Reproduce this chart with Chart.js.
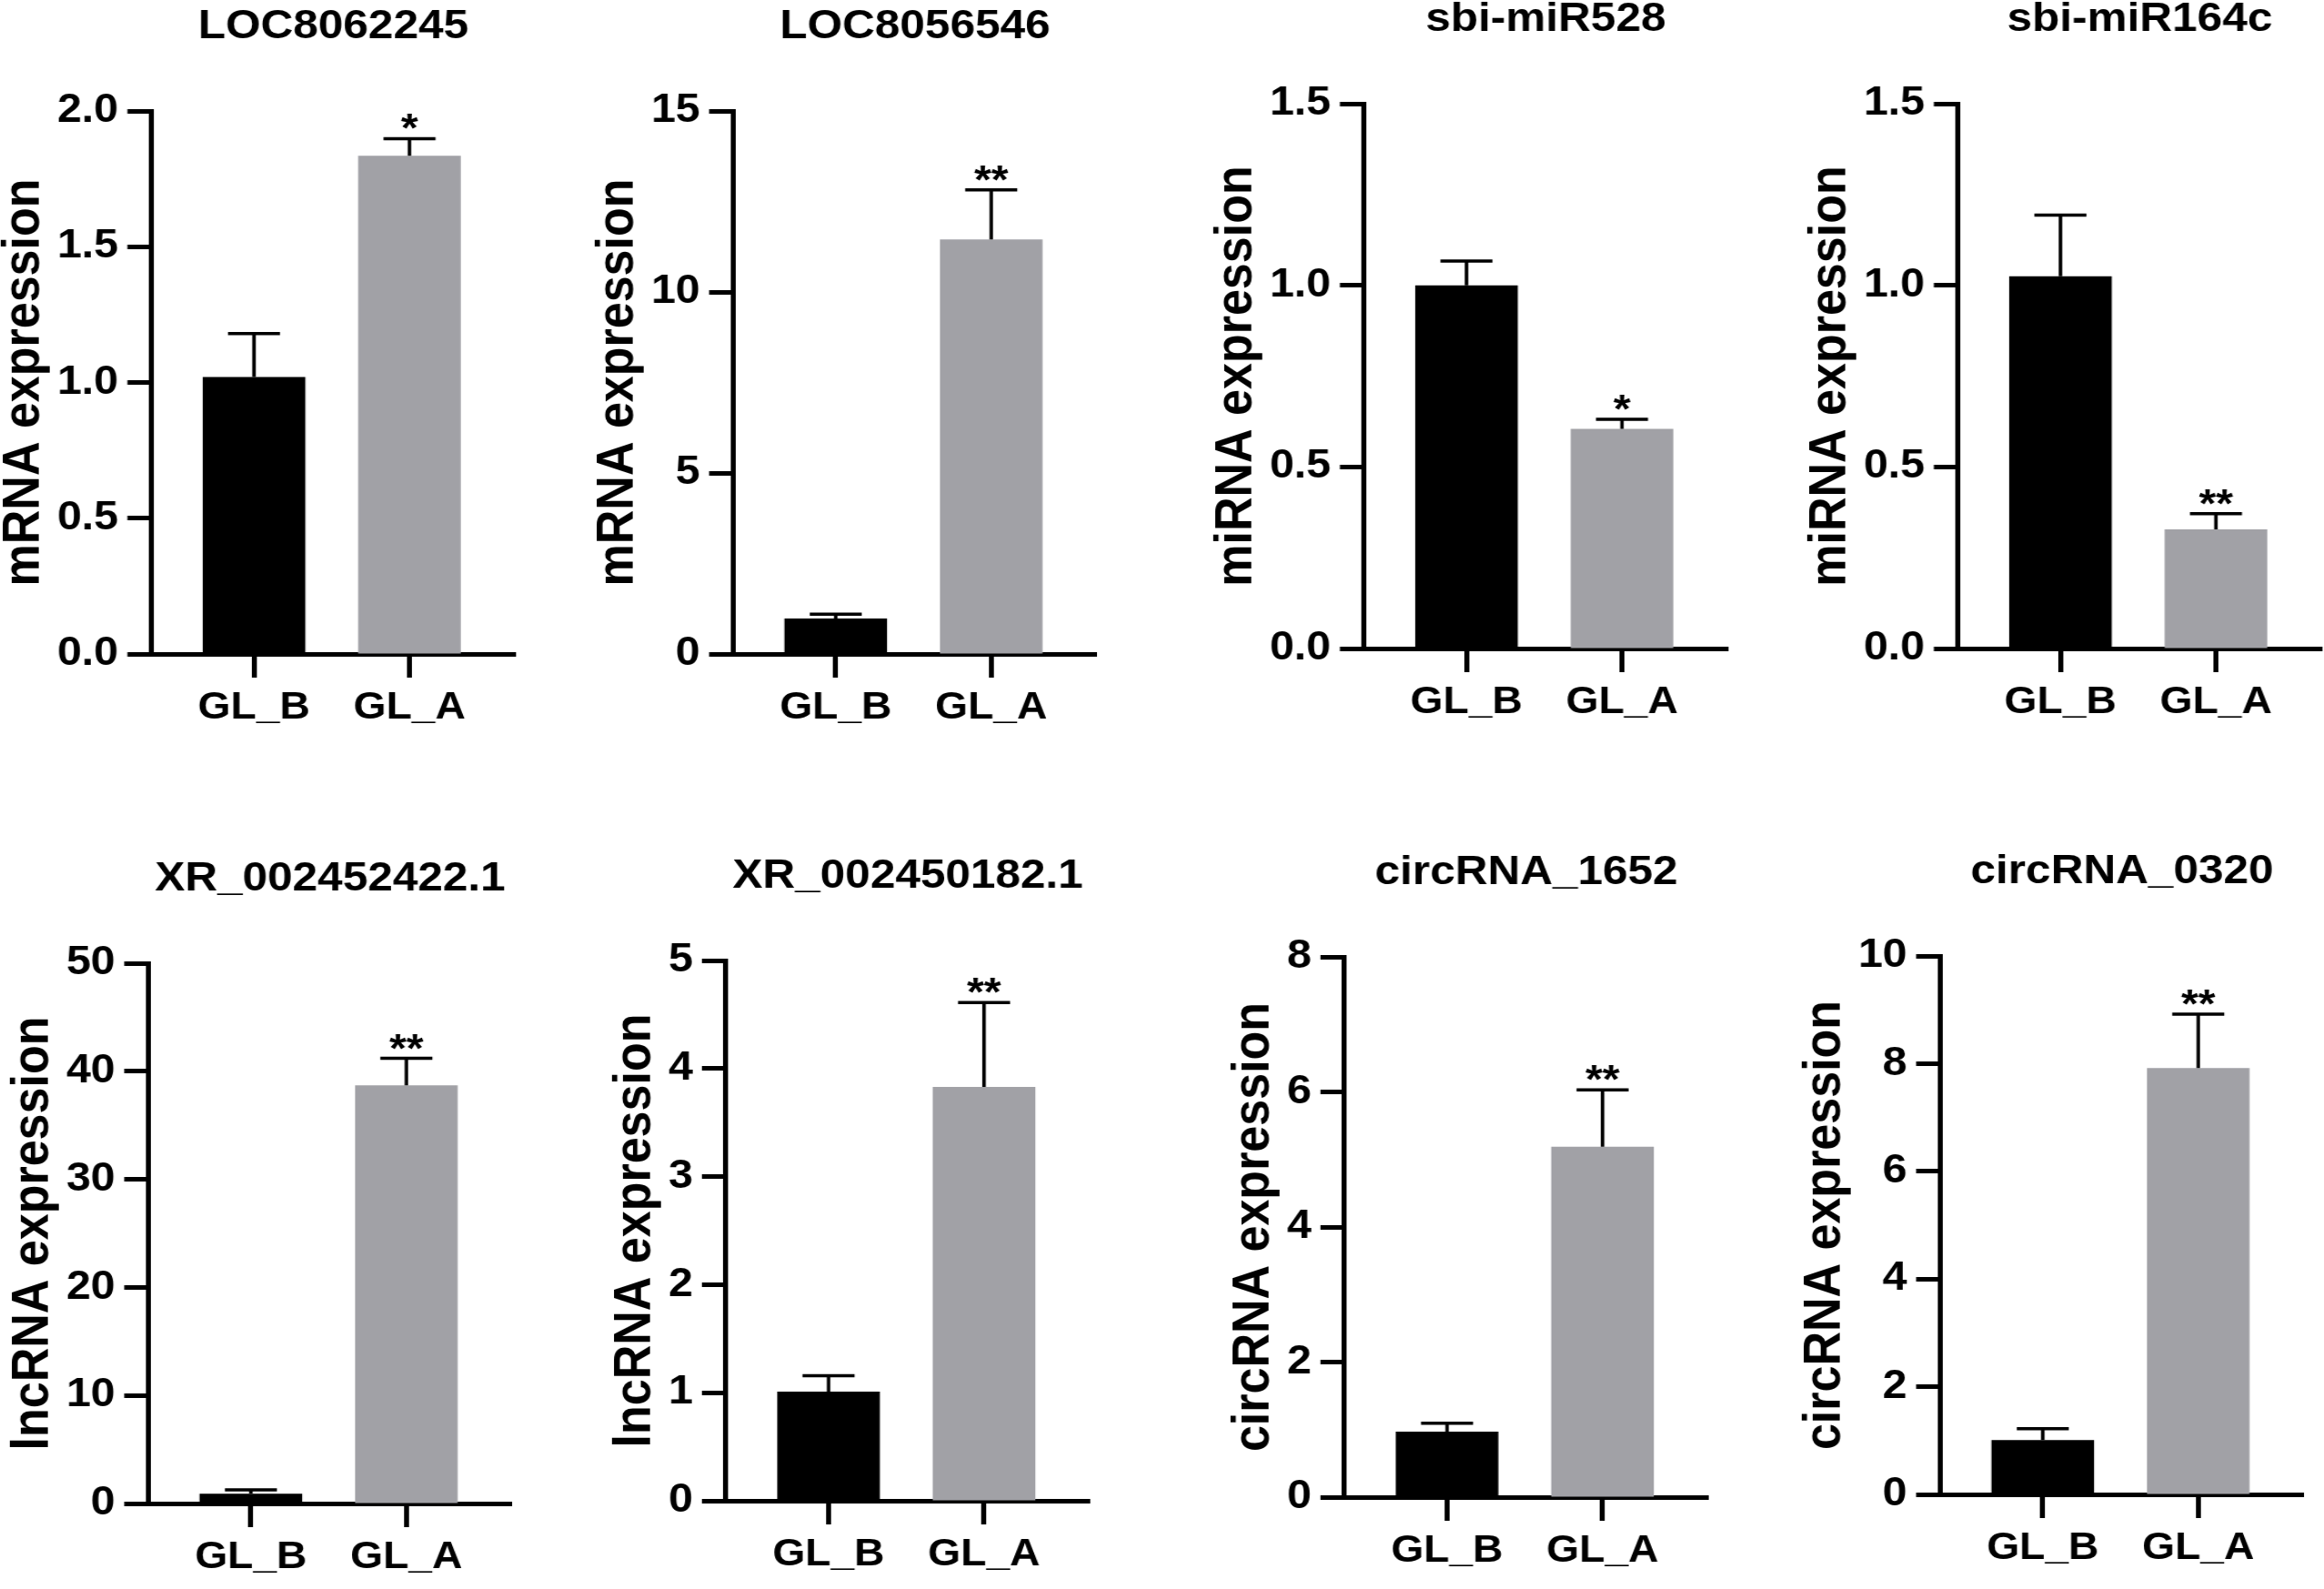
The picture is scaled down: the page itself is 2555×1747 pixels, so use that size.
<!DOCTYPE html>
<html>
<head>
<meta charset="utf-8">
<script src="https://cdn.jsdelivr.net/npm/chart.js@4.4.1/dist/chart.umd.min.js"></script>
<style>
  html, body { margin: 0; padding: 0; background: #fff; width: 2555px; height: 1747px; overflow: hidden; position: relative; }
  canvas { position: absolute; transform-origin: 0 0; }
</style>
</head>
<body>
<script>
// data
const groups = ['GL_B', 'GL_A'];
const titles = ['LOC8062245', 'LOC8056546', 'sbi-miR528', 'sbi-miR164c',
                'XR_002452422.1', 'XR_002450182.1', 'circRNA_1652', 'circRNA_0320'];
const yTitles = ['mRNA expression', 'mRNA expression', 'miRNA expression', 'miRNA expression',
                 'lncRNA expression', 'lncRNA expression', 'circRNA expression', 'circRNA expression'];
const meanB = [1.02, 0.98, 1.00, 1.025, 0.9, 1.01, 0.97, 1.01];
const meanA = [1.835, 11.45, 0.605, 0.328, 38.7, 3.83, 5.19, 7.92];
const errB = [0.16, 0.12, 0.067, 0.168, 0.36, 0.147, 0.125, 0.21];
const errA = [0.063, 1.37, 0.026, 0.043, 2.5, 0.78, 0.84, 1.0];
const signif = ['*', '**', '*', '**', '**', '**', '**', '**'];
const yTickLabels = [
    ['0.0', '0.5', '1.0', '1.5', '2.0'],
    ['0', '5', '10', '15'],
    ['0.0', '0.5', '1.0', '1.5'],
    ['0.0', '0.5', '1.0', '1.5'],
    ['0', '10', '20', '30', '40', '50'],
    ['0', '1', '2', '3', '4', '5'],
    ['0', '2', '4', '6', '8'],
    ['0', '2', '4', '6', '8', '10'],
];

// where each panel's axes sit on the page
const axisX = [166, 806, 1499, 2152, 163, 798, 1478, 2133];
const axisTop = [122, 122, 114, 114, 1059, 1056, 1052, 1051];
const axisZero = [719, 719, 713, 713, 1653, 1650, 1646, 1643];
const axisLength = 400;
// the published figure is stretched sideways a little
const stretch = 1.1;

const FONT = '"Liberation Sans", Arial, Helvetica, sans-serif';
Chart.defaults.font.family = FONT;
Chart.defaults.color = '#000';

const errorBars = {
    id: 'errorBars',
    afterDatasetsDraw(chart) {
        const {ctx, scales: {y}} = chart;
        const ds = chart.data.datasets[0];
        const meta = chart.getDatasetMeta(0);
        ctx.save();
        ctx.strokeStyle = '#000';
        ctx.fillStyle = '#000';
        ctx.lineWidth = 3.5;
        meta.data.forEach((bar, j) => {
            const top = y.getPixelForValue(ds.data[j].y + ds.errors[j]);
            ctx.beginPath();
            ctx.moveTo(bar.x, bar.y);
            ctx.lineTo(bar.x, top);
            ctx.moveTo(bar.x - 26, top);
            ctx.lineTo(bar.x + 26, top);
            ctx.stroke();
            if (ds.marks[j]) {
                ctx.font = 'bold 44px ' + FONT;
                ctx.textAlign = 'center';
                ctx.textBaseline = 'alphabetic';
                ctx.fillText(ds.marks[j], bar.x, top + 4);
            }
        });
        ctx.restore();
    }
};

function makePanel(i) {
    const canvas = document.createElement('canvas');
    canvas.width = 560;
    canvas.height = 873;
    canvas.style.width = '560px';
    canvas.style.height = '873px';
    canvas.style.transform = 'scaleX(' + stretch + ')';
    document.body.appendChild(canvas);

    const labels = yTickLabels[i];
    const cfg = {
        type: 'bar',
        data: {
            datasets: [{
                data: [{x: 1, y: meanB[i]}, {x: 2, y: meanA[i]}],
                errors: [errB[i], errA[i]],
                marks: ['', signif[i]],
                backgroundColor: ['#000000', '#a1a1a6'],
                borderWidth: 0,
                barPercentage: 0.66,
                categoryPercentage: 1,
            }],
        },
        options: {
            responsive: false,
            devicePixelRatio: 1,
            animation: false,
            layout: { padding: { top: 0, right: 40, bottom: 40, left: 0 } },
            plugins: {
                legend: { display: false },
                tooltip: { enabled: false },
                title: {
                    display: true,
                    text: titles[i],
                    fullSize: false,
                    color: '#000',
                    font: { size: 45, weight: 'bold' },
                    padding: { top: 10, bottom: 65 },
                },
            },
            scales: {
                x: {
                    type: 'linear',
                    offset: false,
                    min: 0.34,
                    max: 2.68,
                    afterBuildTicks: (s) => { s.ticks = groups.map((g, k) => ({ value: k + 1 })); },
                    ticks: {
                        callback: (v) => groups[Math.round(v) - 1],
                        font: { size: 42, weight: 'bold' },
                        color: '#000',
                        padding: 8,
                        autoSkip: false,
                        maxRotation: 0,
                    },
                    grid: { offset: false, drawOnChartArea: false, drawTicks: true, tickLength: 26, tickWidth: 5, tickColor: '#000' },
                    border: { display: true, color: '#000', width: 5 },
                },
                y: {
                    type: 'linear',
                    min: 0,
                    max: parseFloat(labels[labels.length - 1]),
                    afterBuildTicks: (s) => { s.ticks = labels.map(l => ({ value: parseFloat(l) })); },
                    ticks: {
                        callback: (v, k) => labels[k],
                        font: { size: 44, weight: 'bold' },
                        color: '#000',
                        padding: 9,
                    },
                    grid: { drawOnChartArea: false, drawTicks: true, tickLength: 24, tickWidth: 5, tickColor: '#000' },
                    border: { display: true, color: '#000', width: 5 },
                    title: {
                        display: true,
                        text: yTitles[i],
                        color: '#000',
                        font: { size: 52, weight: 'bold' },
                        padding: { top: 0, bottom: -7 },
                    },
                },
            },
        },
        plugins: [errorBars],
    };

    const chart = new Chart(canvas, cfg);
    // size the plot area like the reference, then move the canvas so the axes line up
    const area = chart.chartArea;
    const pad = chart.config.options.layout.padding;
    pad.right += (area.right - area.left) - axisLength / stretch;
    pad.bottom += (area.bottom - area.top) - (axisZero[i] - axisTop[i]);
    chart.update('none');
    canvas.style.left = (axisX[i] - chart.chartArea.left * stretch) + 'px';
    canvas.style.top = (axisTop[i] - chart.chartArea.top) + 'px';
}

titles.forEach((t, i) => makePanel(i));
</script>
</body>
</html>
